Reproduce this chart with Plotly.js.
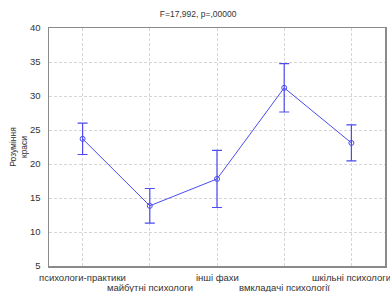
<!DOCTYPE html>
<html>
<head>
<meta charset="utf-8">
<script src="https://cdn.plot.ly/plotly-3.0.1.min.js"></script>
<style>html,body{margin:0;padding:0;background:#fff;}#chart{width:390px;height:292px;}</style>
</head>
<body>
<div id="chart"></div>
<script>
var categories = ["психологи-практики", "майбутні психологи", "інші фахи", "вмкладачі психології", "шкільні психологи"];
var means = [23.7, 13.85, 17.8, 31.2, 23.1];
var errors = [2.3, 2.55, 4.2, 3.55, 2.65];
var yTicks = [5, 10, 15, 20, 25, 30, 35, 40];

var positions = categories.map(function (c, i) { return i; });

var trace = {
  x: positions,
  y: means,
  type: "scatter",
  mode: "lines+markers",
  line: { color: "#4b4bf0", width: 1 },
  marker: { symbol: "circle-open", size: 5, color: "#4b4bf0", line: { width: 1 } },
  error_y: { type: "data", array: errors, visible: true, color: "#4b4bf0", thickness: 1.2, width: 5 },
  hoverinfo: "skip"
};

var labelAnnotations = categories.map(function (c, i) {
  return {
    x: i, xref: "x", y: 0, yref: "paper",
    text: c, showarrow: false,
    xanchor: "center", yanchor: "middle",
    yshift: i % 2 === 1 ? -21 : -11,
    font: { size: 9.5, color: "#333333" }
  };
});

var layout = {
  width: 390, height: 292,
  margin: { l: 49, r: 5, t: 28, b: 26 },
  paper_bgcolor: "#ffffff", plot_bgcolor: "#ffffff",
  showlegend: false,
  font: { family: "Liberation Sans, Arial, sans-serif", color: "#333333", size: 9 },
  title: { text: "F=17,992, p=,00000", x: 0.508, xanchor: "center", y: 0.952, yanchor: "middle",
           font: { size: 8.5, color: "#333333" } },
  xaxis: {
    range: [-0.5, 4.5],
    tickmode: "array", tickvals: positions, showticklabels: false,
    showgrid: true, gridcolor: "#d6d6d6", griddash: "3px,2px", gridwidth: 1,
    zeroline: false, showline: true, linecolor: "#8a8a8a", linewidth: 1.5, mirror: true,
    ticks: "", automargin: false
  },
  yaxis: {
    range: [5, 40],
    tickmode: "array", tickvals: yTicks,
    showgrid: true, gridcolor: "#d6d6d6", griddash: "3px,2px", gridwidth: 1,
    zeroline: false, showline: true, linecolor: "#8a8a8a", linewidth: 1.5, mirror: true,
    ticks: "", ticklabelstandoff: 5, tickfont: { size: 9.5, color: "#333333" },
    title: { text: "Розуміння<br>краси", standoff: 1, font: { size: 8.5, color: "#333333" } },
    automargin: false
  },
  annotations: labelAnnotations
};

Plotly.newPlot("chart", [trace], layout, { displayModeBar: false, staticPlot: true });
</script>
</body>
</html>
